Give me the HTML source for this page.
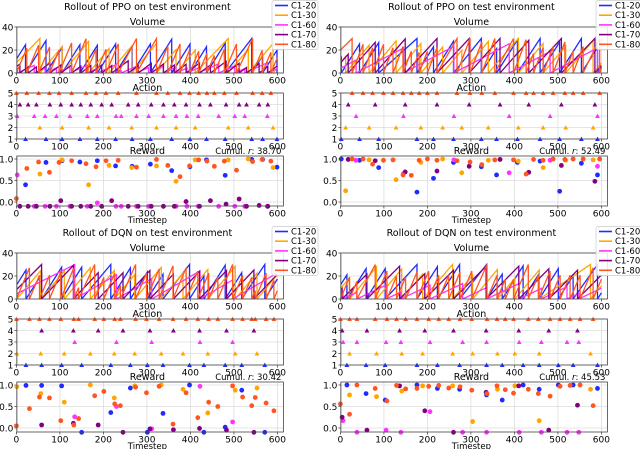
<!DOCTYPE html>
<html><head><meta charset="utf-8"><style>
html,body{margin:0;padding:0;background:#fff;}
svg{display:block;font-family:"DejaVu Sans","Liberation Sans",sans-serif;}
</style></head><body>
<svg id="fig" width="640" height="449" viewBox="0 0 640 449" xmlns="http://www.w3.org/2000/svg"></svg>
<script>
const seriesNames = ["C1-20","C1-30","C1-60","C1-70","C1-80"];
const seriesColors = ["#1f2bff","#ffa500","#ff33ff","#800080","#ff5520"];
const panelTitles = ["Rollout of PPO on test environment","Rollout of PPO on test environment","Rollout of DQN on test environment","Rollout of DQN on test environment"];
const cumulRewards = ["38.70","52.49","30.42","45.53"];
const xTicks = [0,100,200,300,400,500,600];
const volTicks = [0,20,40];
const actTicks = [1,2,3,4,5];
const rewTicks = [0.0,0.5,1.0];

const p1Times = [
 [21,68,105,146,186,228,266,308,357,399,437,480,541,566,599],
 [54,105,166,213,265,322,367,411,487,533,590],
 [2,41,66,92,123,163,186,229,241,276,304,338,367,392,418,465,502,525,577],
 [8,27,46,77,102,127,148,171,196,219,257,280,310,338,363,390,421,446,482,512,529,558,578],
 [0,24,51,76,98,127,160,183,206,234,276,322,348,376,398,419,438,455,478,506,543,565,585]];
const p1Rewards = [
 [0.4,0.92,0.96,0.93,0.96,0.84,0.83,0.88,0.73,0.82,0.98,0.62,0.99,0.99,0.81],
 [0.65,0.98,0.4,0.85,0.8,0.84,0.48,0.98,0.98,1.0,0.8],
 [0.63,-0.1,-0.1,-0.1,-0.1,-0.1,-0.02,-0.1,-0.1,-0.1,-0.1,-0.1,-0.1,-0.1,-0.1,-0.1,-0.1,-0.1,-0.1],
 [-0.1,-0.1,-0.1,-0.1,0.03,-0.1,-0.1,-0.1,-0.1,0.03,-0.1,-0.1,-0.1,-0.1,-0.1,0.01,-0.1,0.03,-0.05,0.07,-0.1,-0.08,-0.1],
 [0.08,0.78,0.93,0.69,0.92,0.96,0.89,0.82,0.96,0.97,0.81,0.99,0.85,0.59,0.84,0.98,0.95,0.83,0.95,0.74,0.94,0.99,0.95]];
const p1Rates = [0.6,0.45,0.17,0.28,0.9];

const p2Times = [
 [2,44,88,176,214,260,324,359,407,459,504,554,591],
 [12,66,128,185,235,279,340,409,466,518,581],
 [36,145,261,388,482,591],
 [18,80,149,222,296,367,433,508,585],
 [27,52,74,99,121,144,163,181,200,222,268,298,325,355,398,427,444,466,489,516,535,558,596]];
const p2Rewards = [
 [1.0,0.97,0.8,0.23,0.55,0.92,0.82,0.63,0.92,0.95,0.25,0.9,0.63],
 [0.26,0.98,0.52,0.92,1.0,0.68,0.97,0.95,0.8,0.97,0.98],
 [0.97,0.66,0.98,0.68,0.97,0.83],
 [0.99,0.96,0.7,0.72,0.83,0.99,0.69,0.85,0.48],
 [1.0,1.0,0.88,0.97,0.98,0.63,0.62,0.97,1.0,0.97,0.96,0.93,0.87,0.98,0.98,0.65,0.99,0.97,1.0,0.99,1.0,1.0,1.0]];
const p2Rates = [0.6,0.45,0.2,0.43,1.0];

const p3Times = [
 [22,58,104,150,217,262,301,337,398,431,480,518,571],
 [1,56,110,170,225,272,333,383,440,503,553],
 [134,230,311,422,497],
 [58,131,188,245,307,361,421,483,546],
 [0,30,53,76,102,132,143,180,201,226,239,274,299,328,360,390,417,442,463,497,520,541,549,574,592]];
const p3Rewards = [
 [0.99,0.99,0.98,-0.1,0.36,0.93,-0.1,0.34,1.0,-0.1,0.02,0.88,-0.1],
 [0.96,0.8,0.6,1.0,0.7,0.98,1.0,0.9,0.35,0.88,0.93],
 [0.26,0.5,-0.02,0.97,0.14],
 [0.07,0.11,0.07,-0.1,-0.02,-0.04,-0.01,-0.05,-0.1],
 [0.05,0.45,0.72,0.7,0.17,0.07,0.22,0.75,0.85,0.56,0.52,0.95,0.82,0.97,0.09,0.82,0.24,0.6,0.5,0.98,0.72,0.52,0.71,0.58,0.4]];
const p3Rates = [0.6,0.45,0.22,0.4,0.9];

const p4Times = [
 [15,59,103,176,223,274,336,372,420,457,501,535,591],
 [21,83,141,189,258,304,361,401,457,575],
 [6,38,105,139,206,281,336,411,462,521,548],
 [4,61,136,194,260,335,410,479,545],
 [0,21,38,80,107,129,150,176,203,226,249,275,302,337,360,379,398,432,455,482,505,528,551,581]];
const p4Rewards = [
 [1.0,0.8,0.65,1.0,0.92,0.9,0.77,0.65,1.0,0.9,1.0,1.0,0.92],
 [0.77,0.73,0.86,0.98,0.98,0.15,0.9,0.98,0.17,0.9],
 [0.17,-0.1,-0.05,-0.1,0.38,-0.1,-0.1,-0.1,-0.1,-0.1,-0.1],
 [0.25,-0.05,0.98,0.4,-0.1,0.83,0.98,-0.05,0.53],
 [0.56,0.32,1.0,0.92,0.63,0.99,0.91,0.92,0.97,0.99,0.93,0.96,0.88,0.8,0.98,0.89,0.81,0.9,0.8,0.74,0.97,0.99,1.0,0.52]];
const p4Rates = [0.6,0.45,0.18,0.38,0.9];

const volCap = 30;

const panels = [
 {ox:-3.6, oy:0, times:p1Times, rewards:p1Rewards, rates:p1Rates},
 {ox:320.4, oy:0, times:p2Times, rewards:p2Rewards, rates:p2Rates},
 {ox:-3.6, oy:226, times:p3Times, rewards:p3Rewards, rates:p3Rates},
 {ox:320.4, oy:226, times:p4Times, rewards:p4Rewards, rates:p4Rates}];

const NS="http://www.w3.org/2000/svg";
const svg=document.getElementById('fig');
function el(tag,attrs,parent){const e=document.createElementNS(NS,tag);for(const k in attrs)e.setAttribute(k,attrs[k]);(parent||svg).appendChild(e);return e;}
function txt(s,x,y,size,anchor,parent){const t=el('text',{x:x,y:y,'font-size':size,'text-anchor':anchor||'middle',fill:'#000'},parent);t.textContent=s;return t;}

panels.forEach((p,pi)=>{
 const g=el('g',{});
 
 
 const L=p.ox+20.5, R=p.ox+287;
 const xs=t=>p.ox+20+(t*261/600);
 const t0=txt(panelTitles[pi],p.ox+151,p.oy+10,9.5,'middle',g);
 

 function axes(top,bot,name,title,ymin,ymax,ticks,fmt){
  const ag=el('g',{},g);
  
  
  const ys=v=>bot-(v-ymin)/(ymax-ymin)*(bot-top);
  xTicks.forEach(t=>{el('line',{x1:xs(t),x2:xs(t),y1:top,y2:bot,stroke:'#dcdcdc','stroke-width':0.8},ag);
   el('line',{x1:xs(t),x2:xs(t),y1:bot,y2:bot+2.5,stroke:'#333','stroke-width':0.7},ag);
   const tl=txt(String(t),xs(t),bot+10.5,9,'middle',ag);});
  ticks.forEach(v=>{el('line',{x1:L,x2:R,y1:ys(v),y2:ys(v),stroke:'#dcdcdc','stroke-width':0.8},ag);
   el('line',{x1:L-2.5,x2:L,y1:ys(v),y2:ys(v),stroke:'#333','stroke-width':0.7},ag);
   const tl=txt(fmt(v),L-3.5,ys(v)+3.3,9,'end',ag);});
  const tt=txt(title,p.ox+151,top-2,9.5,'middle',ag);
  
  return {ag,ys,top,bot};
 }
 const frame=(a)=>{const r=el('rect',{x:L,y:a.top,width:R-L,height:a.bot-a.top,fill:'none',stroke:'#444','stroke-width':0.8},g);
   };

 const va=axes(p.oy+27,p.oy+73,'volume','Volume',0,40,volTicks,v=>String(v));
 const clip=el('clipPath',{id:'c'+pi},g);el('rect',{x:L,y:va.top,width:R-L,height:va.bot-va.top},clip);
 const vg=el('g',{'clip-path':'url(#c'+pi+')'},g);
 seriesNames.forEach((n,si)=>{
  const times=p.times[si], r=p.rates[si];
  let prev=-20, pts=[];
  const push=(t,v)=>pts.push(xs(t).toFixed(1)+','+va.ys(Math.min(v,volCap)).toFixed(1));
  push(0,r*20);
  times.forEach(t=>{push(t,r*(t-prev));push(t,0);prev=t;});
  push(600,r*(600-prev));
  const pl=el('polyline',{points:pts.join(' '),fill:'none',stroke:seriesColors[si],'stroke-width':1.3},vg);
  
  
 });
 frame(va);

 const aa=axes(p.oy+93,p.oy+139,'action','Action',1,5,actTicks,v=>String(v));
 seriesNames.forEach((n,si)=>{
  p.times[si].forEach(t=>{
   const x=xs(t),y=aa.ys(si+1);
   const m=el('path',{d:`M${x-2.4},${y+2}L${x+2.4},${y+2}L${x},${y-2.4}Z`,fill:seriesColors[si]},g);
   
   
  });
 });
 frame(aa);

 const ra=axes(p.oy+156,p.oy+206,'reward','Reward',-0.093,1.07,rewTicks,v=>v.toFixed(1));
 seriesNames.forEach((n,si)=>{
  p.times[si].forEach((t,i)=>{
   const c=el('circle',{cx:xs(t),cy:ra.ys(p.rewards[si][i]),r:2.4,fill:seriesColors[si]},g);
   
   
  });
 });
 frame(ra);
 const cu=el('text',{x:R-2,y:p.oy+154,'font-size':8.5,'text-anchor':'end',fill:'#000'},g);
 cu.innerHTML='Cumul. <tspan font-style="italic">r</tspan>: '+cumulRewards[pi];
 
 const xl=txt('Timestep',p.ox+151,p.oy+223,8.5,'middle',g);
 

 const lg=el('g',{},g);
 
 const lx=p.ox+275.6;
 el('rect',{x:lx,y:p.oy+0.5,width:46,height:49,fill:'#fff','fill-opacity':0.85,stroke:'#ccc','stroke-width':0.7,rx:2},lg);
 seriesNames.forEach((n,si)=>{
  const y=p.oy+5.5+si*9.7;
  const e=el('g',{},lg);
  
  
  el('line',{x1:lx+3,x2:lx+16,y1:y,y2:y,stroke:seriesColors[si],'stroke-width':1.6},e);
  txt(n,lx+19,y+3,8.5,'start',e);
 });
});
</script>
</body></html>
